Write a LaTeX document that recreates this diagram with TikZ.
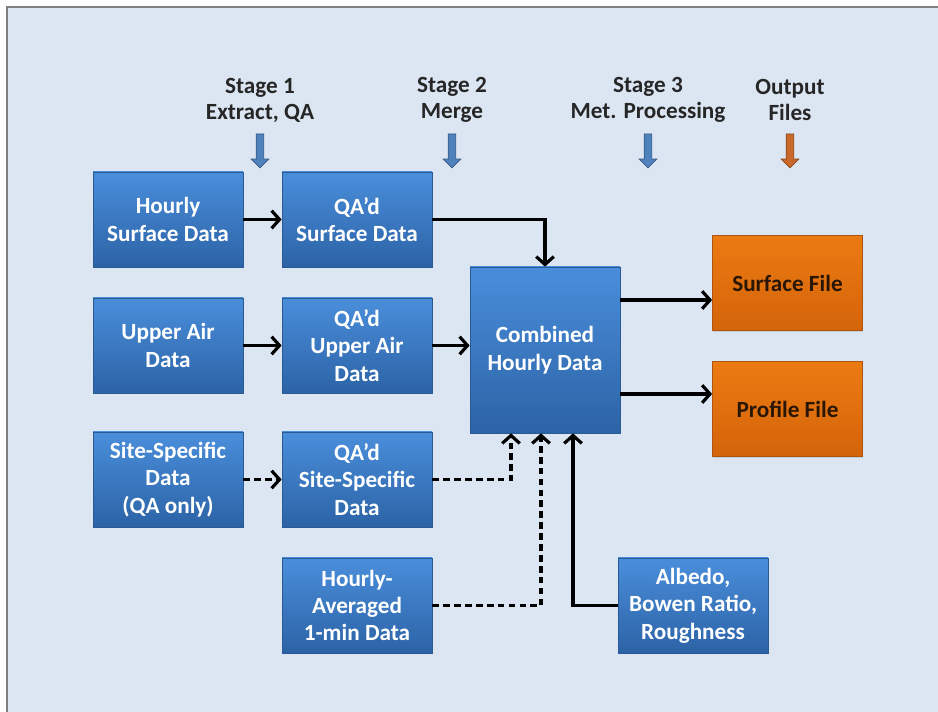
\documentclass[tikz,border=0pt]{standalone}
\usepackage{fontspec}
\setmainfont{Carlito}
\usepackage{tikz}
\usetikzlibrary{arrows,arrows.meta,shapes,shadows,positioning}
\definecolor{bgblue}{HTML}{DCE6F2}
\definecolor{boxtop}{HTML}{4A8EDB}
\definecolor{boxbot}{HTML}{2C63A6}
\definecolor{boxline}{HTML}{2A5A94}
\definecolor{filetop}{HTML}{EC7A12}
\definecolor{filebot}{HTML}{D4640A}
\definecolor{fileline}{HTML}{B05510}
\definecolor{filetext}{HTML}{2A1605}
\definecolor{stagetext}{HTML}{262626}
\definecolor{arrblue}{HTML}{4F81BD}
\definecolor{arrorange}{HTML}{C8682A}

\begin{document}
\begin{tikzpicture}
    \tikzset{vertex/.style = {shape=rectangle,draw=boxline,top color=boxtop,bottom color=boxbot,
        minimum width=3cm,minimum height=1.9cm,align=center,text=white,
        font=\fontsize{13.2}{15.6}\selectfont\bfseries,
        drop shadow={opacity=0.25,shadow xshift=0.5pt,shadow yshift=-0.8pt}}}
    \tikzset{outfile/.style = {vertex,draw=fileline,top color=filetop,bottom color=filebot,text=filetext}}
    \tikzset{stage/.style = {align=center,text=stagetext,font=\fontsize{13.2}{14.8}\selectfont\bfseries}}
    \tikzset{down/.style = {single arrow,draw=#1!70!black,fill=#1,rotate=-90,inner sep=0.07cm,
        minimum height=0.68cm,minimum width=0.34cm,single arrow head extend=0.1cm}}
    \tikzset{edge/.style = {-{Straight Barb[length=4.5pt,width=10pt]},line width=1.8pt}}
    \tikzset{dedge/.style = {edge,dash pattern=on 3.8pt off 2.4pt}}
    % background and frame
    \useasboundingbox (0,0) rectangle (18.76,-14.24);
    \fill[white] (0,0) rectangle (18.76,-14.24);
    \fill[bgblue] (0.14,-0.14) rectangle (18.76,-14.24);
    \draw[gray,line width=1.3pt] (0.14,-14.24) -- (0.14,-0.14) -- (18.76,-0.14);
    % stage headings
    \node[stage] (st1) at (5.2,-2.0) {Stage 1\\Extract, QA};
    \node[stage] (st2) at (9.04,-2.0) {Stage 2\\Merge};
    \node[stage] (st3) at (12.96,-2.0) {Stage 3\\Met. Processing};
    \node[stage] (st4) at (15.8,-2.0) {Output\\Files};
    \node[down=arrblue] (a1) at (5.2,-2.98) {};
    \node[down=arrblue] (a2) at (9.04,-2.98) {};
    \node[down=arrblue] (a3) at (12.96,-2.98) {};
    \node[down=arrorange] (a4) at (15.8,-2.98) {};
    % vertices
    \node[vertex] (hsd) at (3.36,-4.39) {Hourly\\Surface Data};
    \node[vertex] (qsd) at (7.14,-4.39) {QA'd\\Surface Data};
    \node[vertex] (uad) at (3.36,-6.91) {Upper Air\\Data};
    \node[vertex] (qua) at (7.14,-6.91) {QA'd\\Upper Air\\Data};
    \node[vertex] (ssd) at (3.36,-9.59) {Site-Specific\\Data\\(QA only)};
    \node[vertex] (qss) at (7.14,-9.59) {QA'd\\Site-Specific\\Data};
    \node[vertex] (havg) at (7.14,-12.11) {Hourly-\\Averaged\\1-min Data};
    \node[vertex,minimum height=3.32cm] (comb) at (10.9,-7.0) {Combined\\Hourly Data};
    \node[vertex] (alb) at (13.86,-12.11) {Albedo,\\Bowen Ratio,\\Roughness};
    \node[outfile] (sfile) at (15.75,-5.66) {Surface File};
    \node[outfile] (pfile) at (15.75,-8.18) {Profile File};
    % ends on the combined box
    \coordinate (in1) at ([xshift=-0.68cm]comb.south);
    \coordinate (in2) at ([xshift=-0.08cm]comb.south);
    \coordinate (in3) at ([xshift=0.56cm]comb.south);
    \coordinate (out1) at ([yshift=1.0cm]comb.east);
    \coordinate (out2) at ([yshift=-0.88cm]comb.east);
    % edges
    \draw[edge] (hsd) -- (qsd);
    \draw[edge] (uad) -- (qua);
    \draw[dedge] (ssd) -- (qss);
    \draw[edge] (qsd.east) -| (comb.north);
    \draw[edge] (qua.east) -- (qua.east -| comb.west);
    \draw[dedge] (qss.east) -| (in1);
    \draw[dedge] (havg.east) -| (in2);
    \draw[edge] (alb.west) -| (in3);
    \draw[edge] (out1) -- (out1 -| sfile.west);
    \draw[edge] (out2) -- (out2 -| pfile.west);
\end{tikzpicture}
\end{document}
